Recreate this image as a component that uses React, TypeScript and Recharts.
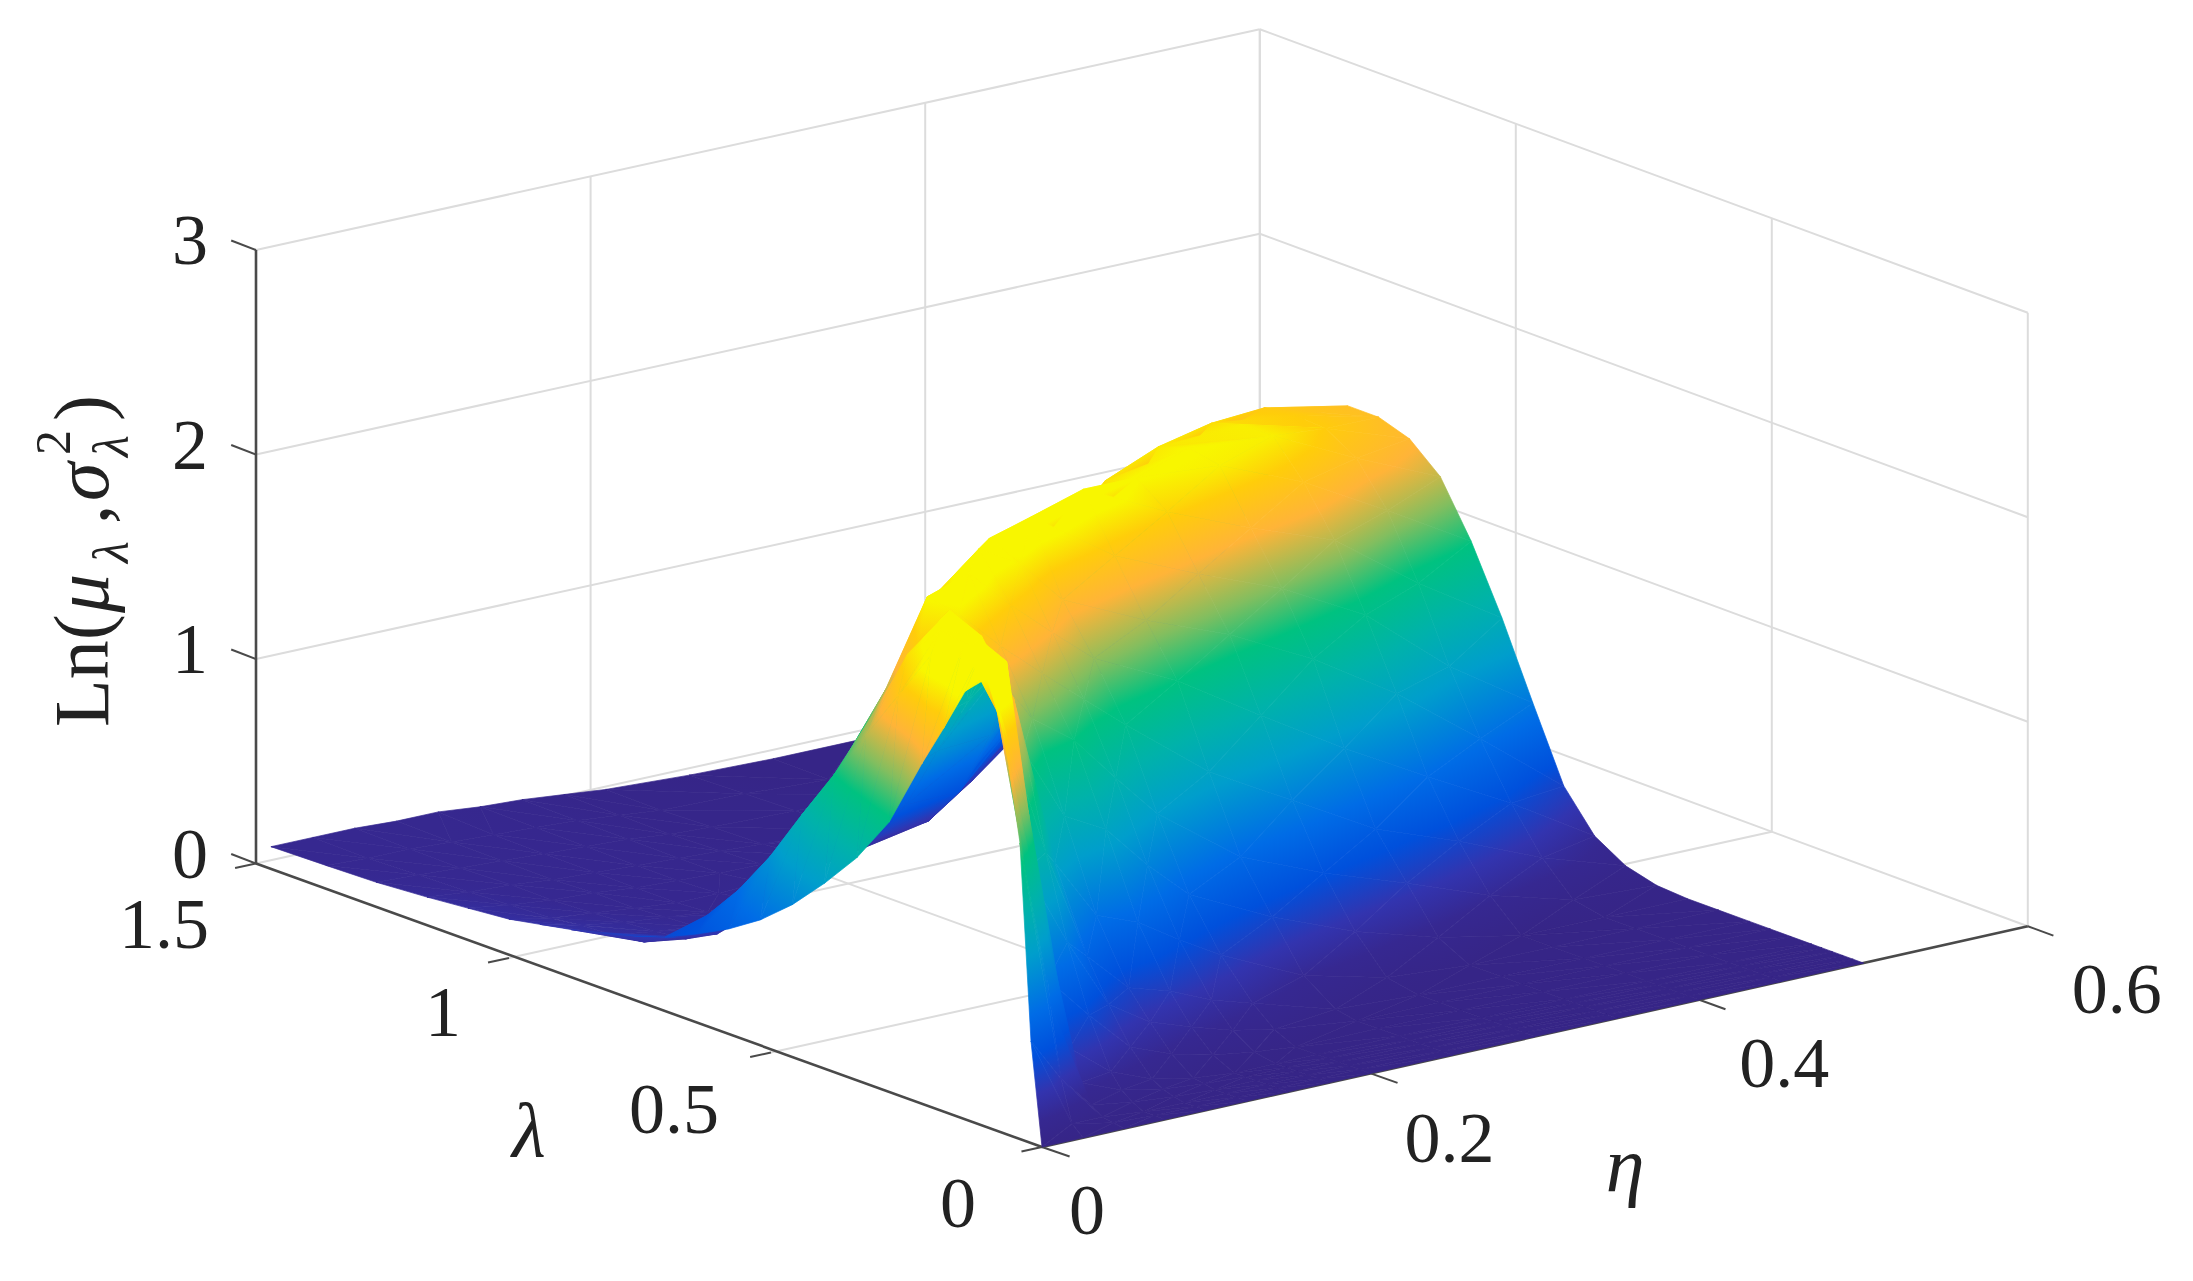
import { ComposedChart, Line, Scatter, XAxis, YAxis } from "recharts";

const WIDTH = 2193;
const HEIGHT = 1281;

const etaValues = [0, 0.025, 0.05, 0.075, 0.1, 0.125, 0.15, 0.175, 0.2, 0.25, 0.3, 0.35, 0.4, 0.45, 0.5];
const lambdaValues = [
  0, 0.02, 0.04, 0.06, 0.08, 0.1, 0.14, 0.18, 0.22, 0.28, 0.34, 0.4, 0.46, 0.52, 0.58, 0.64, 0.7,
  0.76, 0.82, 0.88, 0.94, 1, 1.08, 1.16, 1.26, 1.36, 1.47,
];

// one row per eta, one column per lambda
const heightRows = [
  [0, 0.5, 1.45, 1.8, 2.08, 2.2, 2.1, 1.88, 1.67, 1.33, 1.1, 0.92, 0.76, 0.63, 0.53, 0.45, 0.38, 0.33, 0.29, 0.25, 0.22, 0.19, 0.17, 0.15, 0.13, 0.12, 0.11],
  [0, 0.05, 0.25, 0.6, 1.1, 1.5, 2.2, 2.25, 2.2, 2.1, 1.85, 1.6, 1.35, 1.1, 0.84, 0.62, 0.44, 0.28, 0.2, 0.18, 0.17, 0.15, 0.14, 0.13, 0.12, 0.11, 0.11],
  [0, 0.01, 0.02, 0.06, 0.15, 0.3, 0.6, 1.1, 1.77, 2.1, 2.12, 1.95, 1.62, 1.3, 1.0, 0.75, 0.48, 0.25, 0.17, 0.15, 0.14, 0.13, 0.12, 0.12, 0.11, 0.11, 0.11],
  [0, 0, 0, 0.03, 0.07, 0.14, 0.38, 0.7, 1.1, 1.8, 2.05, 2.12, 1.9, 1.62, 1.3, 0.98, 0.72, 0.48, 0.18, 0.13, 0.12, 0.11, 0.11, 0.1, 0.1, 0.1, 0.1],
  [0, 0, 0, 0.01, 0.03, 0.06, 0.18, 0.35, 0.55, 0.95, 1.45, 1.8, 2.0, 2.03, 1.6, 1.25, 0.95, 0.65, 0.38, 0.15, 0.1, 0.09, 0.09, 0.09, 0.09, 0.09, 0.1],
  [0, 0, 0, 0, 0.01, 0.02, 0.1, 0.22, 0.35, 0.65, 1.08, 1.5, 1.8, 2.1, 1.95, 1.5, 1.12, 0.78, 0.48, 0.2, 0.12, 0.09, 0.08, 0.08, 0.08, 0.08, 0.08],
  [0, 0, 0, 0, 0, 0, 0.05, 0.15, 0.29, 0.57, 0.97, 1.35, 1.62, 1.9, 2.12, 1.75, 1.35, 0.95, 0.62, 0.35, 0.18, 0.1, 0.07, 0.07, 0.07, 0.07, 0.07],
  [0, 0, 0, 0, 0, 0, 0.02, 0.09, 0.2, 0.44, 0.75, 1.12, 1.45, 1.72, 2.0, 2.07, 1.55, 1.05, 0.72, 0.42, 0.22, 0.12, 0.07, 0.06, 0.05, 0.05, 0.05],
  [0, 0, 0, 0, 0, 0, 0, 0.05, 0.14, 0.32, 0.56, 0.9, 1.28, 1.55, 1.78, 2.13, 1.7, 1.12, 0.82, 0.5, 0.28, 0.14, 0.07, 0.05, 0.04, 0.03, 0.03],
  [0, 0, 0, 0, 0, 0, 0, 0, 0.02, 0.13, 0.36, 0.6, 0.96, 1.35, 1.59, 1.85, 2.12, 1.78, 1.25, 0.75, 0.42, 0.22, 0.08, 0.03, 0.03, 0.02, 0.01],
  [0, 0, 0, 0, 0, 0, 0, 0, 0, 0.03, 0.2, 0.43, 0.73, 1.09, 1.43, 1.67, 1.92, 2.03, 1.96, 1.4, 0.95, 0.6, 0.25, 0.08, 0.02, 0, 0],
  [0, 0, 0, 0, 0, 0, 0, 0, 0, 0, 0.08, 0.29, 0.5, 0.84, 1.22, 1.51, 1.75, 2.0, 2.03, 1.98, 1.6, 1.15, 0.65, 0.3, 0.08, 0.01, 0],
  [0, 0, 0, 0, 0, 0, 0, 0, 0, 0, 0, 0.14, 0.35, 0.61, 0.96, 1.29, 1.6, 1.83, 2.0, 2.0, 1.95, 1.75, 1.2, 0.75, 0.3, 0.08, 0.01],
  [0, 0, 0, 0, 0, 0, 0, 0, 0, 0, 0, 0.03, 0.18, 0.39, 0.65, 0.95, 1.3, 1.6, 1.8, 1.89, 1.9, 1.88, 1.55, 1.1, 0.55, 0.2, 0.05],
  [0, 0, 0, 0, 0, 0, 0, 0, 0, 0, 0, 0.01, 0.05, 0.14, 0.33, 0.68, 1.04, 1.36, 1.62, 1.75, 1.8, 1.8, 1.68, 1.3, 0.75, 0.3, 0.1],
];

const zTicks = [0, 1, 2, 3];
const lambdaTicks = [0, 0.5, 1, 1.5];
const etaTicks = [0, 0.2, 0.4, 0.6];

const zLabels = ["0", "1", "2", "3"];
const lambdaLabels = ["0", "0.5", "1", "1.5"];
const etaLabels = ["0", "0.2", "0.4", "0.6"];

// label offsets from their tick, in pixels
const lambdaLabelOffsets = [[-84, 56], [-97, 56], [-66, 54], [-92, 60]];
const etaLabelOffsets = [[45, 63], [79, 65], [85, 63], [89, 63]];

// colours along the height, sampled from the surface
const colorHeights = [0, 0.12, 0.25, 0.42, 0.62, 0.9, 1.12, 1.35, 1.52, 1.72, 1.9, 2.02];
const colorValues = [
  [54, 37, 135],
  [54, 40, 145],
  [50, 52, 175],
  [0, 80, 220],
  [0, 108, 230],
  [0, 158, 204],
  [0, 178, 170],
  [0, 194, 128],
  [130, 190, 95],
  [255, 180, 56],
  [255, 205, 10],
  [248, 246, 0],
];

const project = (eta: number, lambda: number, z: number) => ({
  vx: 1042 + 1643 * eta - (551 - 65 * eta) * lambda + (18 - 30 * eta) * lambda * lambda,
  vy: 1147 - 368 * eta - 189 * lambda - 204.5 * z,
});

const colorAt = (z: number) => {
  const last = colorHeights.length - 1;
  if (z <= colorHeights[0]) return `rgb(${colorValues[0].join(",")})`;
  if (z >= colorHeights[last]) return `rgb(${colorValues[last].join(",")})`;
  let k = 0;
  while (z > colorHeights[k + 1]) k++;
  const t = (z - colorHeights[k]) / (colorHeights[k + 1] - colorHeights[k]);
  const c = colorValues[k].map((v, n) => Math.round(v + (colorValues[k + 1][n] - v) * t));
  return `rgb(${c.join(",")})`;
};

type Corner = { vx: number; vy: number; z: number };

const facets: any[] = [];
const addFacet = (a: Corner, b: Corner, c: Corner) => {
  facets.push({
    id: facets.length,
    vx: (a.vx + b.vx + c.vx) / 3,
    vy: (a.vy + b.vy + c.vy) / 3,
    corners: [a, b, c],
  });
};

// back to front so nearer cells paint over farther ones
for (let i = etaValues.length - 2; i >= 0; i--) {
  for (let j = lambdaValues.length - 2; j >= 0; j--) {
    const corner = (n: number, m: number): Corner => ({
      ...project(etaValues[n], lambdaValues[m], heightRows[n][m]),
      z: heightRows[n][m],
    });
    const p00 = corner(i, j);
    const p10 = corner(i + 1, j);
    const p01 = corner(i, j + 1);
    const p11 = corner(i + 1, j + 1);
    if (Math.abs(p00.z - p11.z) < Math.abs(p10.z - p01.z)) {
      addFacet(p10, p11, p00);
      addFacet(p01, p11, p00);
    } else {
      addFacet(p11, p10, p01);
      addFacet(p00, p10, p01);
    }
  }
}

const FacetShape = (props: any) => {
  const { cx, cy, payload } = props;
  const pts = payload.corners.map((c: Corner) => ({
    x: cx + c.vx - payload.vx,
    y: cy + c.vy - payload.vy,
    z: c.z,
  }));
  const points = pts.map((p: any) => `${p.x.toFixed(2)},${p.y.toFixed(2)}`).join(" ");
  const [p0, p1, p2] = pts;
  const det = (p1.x - p0.x) * (p2.y - p0.y) - (p2.x - p0.x) * (p1.y - p0.y);
  const zMin = Math.min(p0.z, p1.z, p2.z);
  const zMax = Math.max(p0.z, p1.z, p2.z);

  if (Math.abs(det) < 1 || zMax - zMin < 0.004) {
    const flat = colorAt((p0.z + p1.z + p2.z) / 3);
    return <polygon points={points} fill={flat} stroke={flat} strokeWidth={0.7} />;
  }

  const a = ((p1.z - p0.z) * (p2.y - p0.y) - (p2.z - p0.z) * (p1.y - p0.y)) / det;
  const b = ((p1.x - p0.x) * (p2.z - p0.z) - (p2.x - p0.x) * (p1.z - p0.z)) / det;
  const g2 = a * a + b * b;
  const low = pts.find((p: any) => p.z === zMin);
  const span = zMax - zMin;
  const heights = [zMin, ...colorHeights.filter((h) => h > zMin && h < zMax), zMax];
  const id = `facet-${payload.id}`;
  return (
    <g>
      <linearGradient
        id={id}
        gradientUnits="userSpaceOnUse"
        x1={low.x}
        y1={low.y}
        x2={low.x + (a * span) / g2}
        y2={low.y + (b * span) / g2}
      >
        {heights.map((h, n) => (
          <stop key={n} offset={(h - zMin) / span} stopColor={colorAt(h)} />
        ))}
      </linearGradient>
      <polygon points={points} fill={`url(#${id})`} stroke={`url(#${id})`} strokeWidth={0.7} strokeLinejoin="round" />
    </g>
  );
};

type Segment = { key: string; color: string; width: number; points: { vx: number; vy: number }[] };
const grey = "#dcdcdc";
const dark = "#4a4a4a";

const segment = (key: string, color: string, width: number, from: number[], to: number[]): Segment => ({
  key,
  color,
  width,
  points: [project(from[0], from[1], from[2]), project(to[0], to[1], to[2])],
});

const segments: Segment[] = [];
etaTicks.slice(1).forEach((e) => {
  segments.push(segment(`floor-e${e}`, grey, 2, [e, 0, 0], [e, 1.5, 0]));
  segments.push(segment(`wall-e${e}`, grey, 2, [e, 1.5, 0], [e, 1.5, 3]));
});
lambdaTicks.slice(1).forEach((l) => {
  segments.push(segment(`floor-l${l}`, grey, 2, [0, l, 0], [0.6, l, 0]));
  segments.push(segment(`wall-l${l}`, grey, 2, [0.6, l, 0], [0.6, l, 3]));
});
segments.push(segment("wall-l0", grey, 2, [0.6, 0, 0], [0.6, 0, 3]));
zTicks.slice(1).forEach((z) => {
  segments.push(segment(`back-z${z}`, grey, 2, [0, 1.5, z], [0.6, 1.5, z]));
  segments.push(segment(`side-z${z}`, grey, 2, [0.6, 0, z], [0.6, 1.5, z]));
});
segments.push(segment("axis-z", dark, 2.6, [0, 1.5, 0], [0, 1.5, 3]));
segments.push(segment("axis-lambda", dark, 2.6, [0, 0, 0], [0, 1.5, 0]));
segments.push(segment("axis-eta", dark, 2.6, [0, 0, 0], [0.6, 0, 0]));
zTicks.forEach((z) => segments.push(segment(`tick-z${z}`, dark, 2, [0, 1.5, z], [0, 1.55, z])));
lambdaTicks.forEach((l) => segments.push(segment(`tick-l${l}`, dark, 2, [0, l, 0], [-0.0125, l, 0])));
etaTicks.forEach((e) => segments.push(segment(`tick-e${e}`, dark, 2, [e, 0, 0], [e, -0.05, 0])));

const textMarks: any[] = [
  ...zTicks.map((z, n) => {
    const p = project(0, 1.5, z);
    return { vx: p.vx - 66, vy: p.vy - 10, text: zLabels[n] };
  }),
  ...lambdaTicks.map((l, n) => {
    const p = project(0, l, 0);
    return { vx: p.vx + lambdaLabelOffsets[n][0], vy: p.vy + lambdaLabelOffsets[n][1], text: lambdaLabels[n] };
  }),
  ...etaTicks.map((e, n) => {
    const p = project(e, 0, 0);
    return { vx: p.vx + etaLabelOffsets[n][0], vy: p.vy + etaLabelOffsets[n][1], text: etaLabels[n] };
  }),
  { vx: 529, vy: 1130, text: "λ", italic: true },
  { vx: 1625, vy: 1164, text: "η", italic: true },
];

const TextMark = (props: any) => {
  const { cx, cy, payload } = props;
  return (
    <text
      x={cx}
      y={cy}
      textAnchor="middle"
      dominantBaseline="central"
      fontFamily="Liberation Serif"
      fontSize={payload.italic ? 78 : 72}
      fontStyle={payload.italic ? "italic" : "normal"}
      fill="#222"
    >
      {payload.text}
    </text>
  );
};

const ylabelPoint = [{ vx: 108, vy: 727 }];

const YLabel = (props: any) => {
  const { cx, cy } = props;
  return (
    <text
      transform={`translate(${cx},${cy}) rotate(-90)`}
      fontFamily="Liberation Serif"
      fontSize={78}
      fill="#222"
    >
      <tspan x={0}>Ln(</tspan>
      <tspan x={114} fontStyle="italic">μ</tspan>
      <tspan x={164} fontStyle="italic" fontSize={50} dy={20}>λ</tspan>
      <tspan x={203} dy={-20}>,</tspan>
      <tspan x={226} fontStyle="italic">σ</tspan>
      <tspan x={272} fontSize={50} dy={-38}>2</tspan>
      <tspan x={270} fontStyle="italic" fontSize={50} dy={58}>λ</tspan>
      <tspan x={306} dy={-20}>)</tspan>
    </text>
  );
};

export default function App() {
  return (
    <div style={{ position: "absolute", left: 0, top: 0, width: WIDTH, height: HEIGHT, background: "#fff" }}>
      <ComposedChart width={WIDTH} height={HEIGHT} margin={{ top: 0, right: 0, bottom: 0, left: 0 }}>
        <XAxis type="number" dataKey="vx" domain={[0, WIDTH]} hide />
        <YAxis type="number" dataKey="vy" domain={[0, HEIGHT]} reversed hide />
        {segments.map((s) => (
          <Line
            key={s.key}
            data={s.points}
            dataKey="vy"
            stroke={s.color}
            strokeWidth={s.width}
            dot={false}
            legendType="none"
            isAnimationActive={false}
          />
        ))}
        <Scatter data={facets} dataKey="vy" shape={(p: any) => <FacetShape {...p} />} isAnimationActive={false} />
        <Scatter data={textMarks} dataKey="vy" shape={(p: any) => <TextMark {...p} />} isAnimationActive={false} />
        <Scatter data={ylabelPoint} dataKey="vy" shape={(p: any) => <YLabel {...p} />} isAnimationActive={false} />
      </ComposedChart>
    </div>
  );
}
